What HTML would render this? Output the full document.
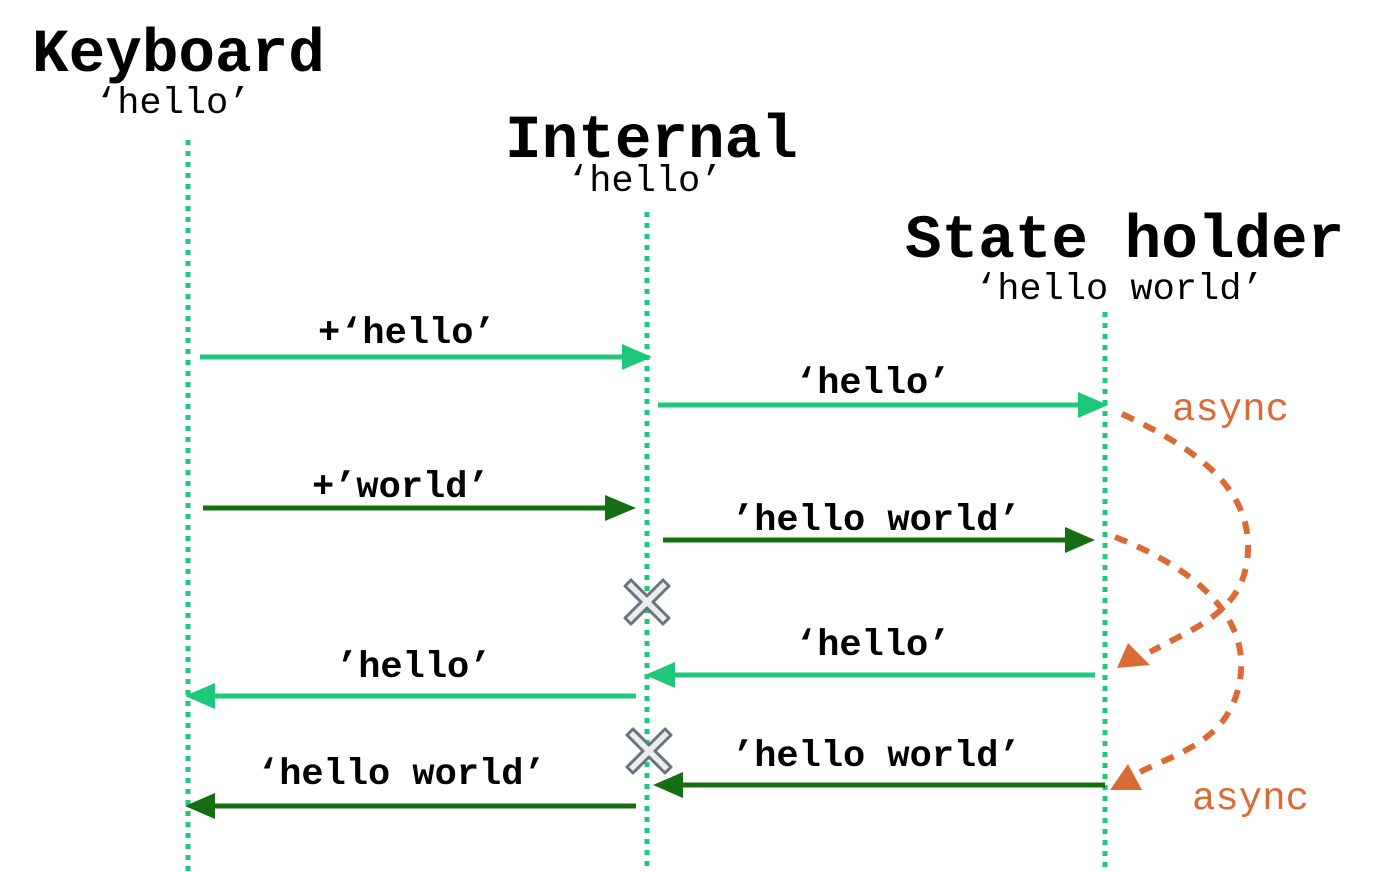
<!DOCTYPE html>
<html><head><style>
html,body{margin:0;padding:0;background:#fff;width:1400px;height:872px;overflow:hidden}
</style></head><body>
<svg width="1400" height="872" viewBox="0 0 1400 872" xmlns="http://www.w3.org/2000/svg" font-family="Liberation Mono, monospace">
<g stroke="#1ec87a" stroke-width="5" stroke-dasharray="5,6">
<line x1="188" y1="140" x2="188" y2="872"/>
<line x1="647" y1="212" x2="647" y2="872"/>
<line x1="1105" y1="312" x2="1105" y2="872"/>
</g>
<g font-weight="bold" fill="#000">
<text x="32" y="71" font-size="61">Keyboard</text>
<text x="505" y="157" font-size="61">Internal</text>
<text x="905" y="257" font-size="61">State holder</text>
</g>
<g fill="#000" font-size="37">
<text x="95" y="113">‘hello’</text>
<text x="567" y="191">‘hello’</text>
<text x="975" y="299">‘hello world’</text>
</g>
<g stroke-width="5">
<line x1="200" y1="357" x2="625" y2="357" stroke="#1ec87a"/><path d="M622,344 L652,357 L622,370z" fill="#1ec87a"/>
<line x1="658" y1="405" x2="1080" y2="405" stroke="#1ec87a"/><path d="M1078,392 L1108,405 L1078,418z" fill="#1ec87a"/>
<line x1="203" y1="508" x2="608" y2="508" stroke="#156f12"/><path d="M605,495 L636,508 L605,521z" fill="#156f12"/>
<line x1="663" y1="540" x2="1068" y2="540" stroke="#156f12"/><path d="M1065,527 L1095,540 L1065,553z" fill="#156f12"/>
<line x1="1095" y1="675" x2="672" y2="675" stroke="#1ec87a"/><path d="M675,662 L645,675 L675,688z" fill="#1ec87a"/>
<line x1="636" y1="696" x2="212" y2="696" stroke="#1ec87a"/><path d="M215,683 L185,696 L215,709z" fill="#1ec87a"/>
<line x1="1105" y1="785" x2="680" y2="785" stroke="#156f12"/><path d="M683,772 L653,785 L683,798z" fill="#156f12"/>
<line x1="636" y1="806" x2="212" y2="806" stroke="#156f12"/><path d="M215,793 L185,806 L215,819z" fill="#156f12"/>
</g>
<g font-weight="bold" fill="#000" font-size="37">
<text x="318" y="343">+‘hello’</text>
<text x="795" y="393">‘hello’</text>
<text x="312" y="497">+’world’</text>
<text x="732" y="530">’hello world’</text>
<text x="795" y="655">‘hello’</text>
<text x="336" y="677">’hello’</text>
<text x="732" y="766">’hello world’</text>
<text x="257" y="784">‘hello world’</text>
</g>
<g fill="none" stroke="#db6b35" stroke-width="6" stroke-dasharray="13,11">
<path d="M1122,414 C1200,450 1250,490 1248,550 C1246,610 1200,625 1150,652"/>
<path d="M1115,537 C1200,570 1250,620 1240,680 C1230,740 1180,752 1140,772"/>
</g>
<path d="M1117,668 L1128,643 L1150,665z" fill="#db6b35"/>
<path d="M1110,790 L1128,764 L1142,790z" fill="#db6b35"/>
<g fill="#db6b35" font-size="39" font-family="Liberation Mono, monospace">
<text x="1172" y="420">async</text>
<text x="1192" y="809">async</text>
</g>
<g fill="#ececec" stroke="#687480" stroke-width="3" stroke-linejoin="round">
<path transform="translate(647,602)" d="M-16,-22 L0,-6 L16,-22 L22,-16 L6,0 L22,16 L16,22 L0,6 L-16,22 L-22,16 L-6,0 L-22,-16z"/>
<path transform="translate(649,751)" d="M-16,-22 L0,-6 L16,-22 L22,-16 L6,0 L22,16 L16,22 L0,6 L-16,22 L-22,16 L-6,0 L-22,-16z"/>
</g>
</svg>
</body></html>
